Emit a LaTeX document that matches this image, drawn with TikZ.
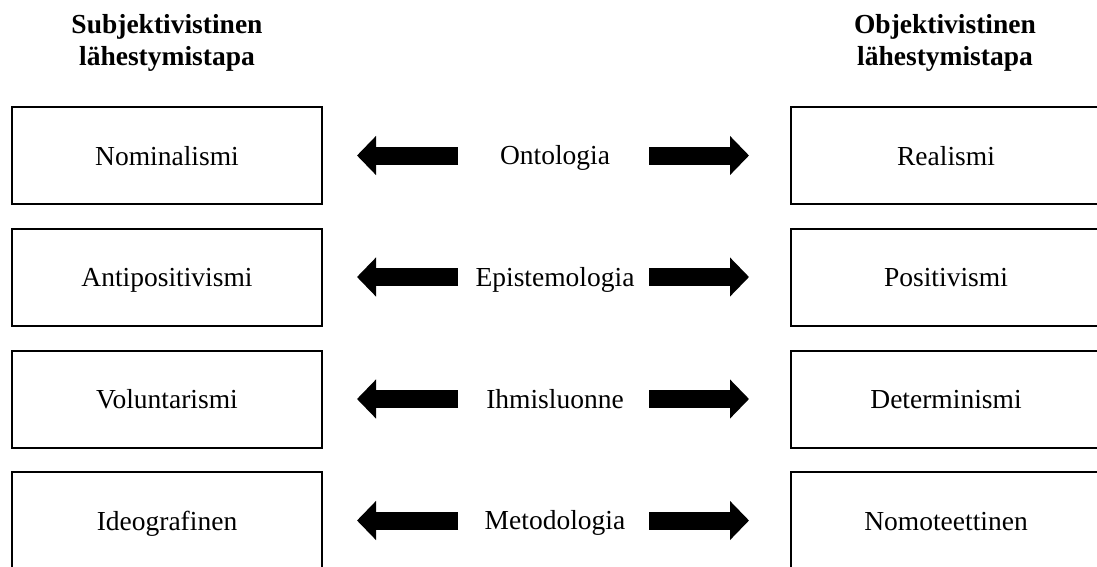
\documentclass[tikz,border=0pt]{standalone}
\usepackage{fontspec}
\setmainfont{Liberation Serif}
\usetikzlibrary{arrows.meta}
\tikzset{
  lbl/.style={font=\fontsize{27.5}{32}\selectfont, inner sep=0pt},
  headtxt/.style={font=\fontsize{27.5}{32}\selectfont\bfseries, inner sep=0pt, align=center},
  cell/.style={draw, line width=2pt, minimum width=310pt, minimum height=97pt, inner sep=0pt,
    font=\fontsize{27.5}{32}\selectfont, text height=19pt, text depth=0pt},
  blockarrow/.style={line width=18pt, -{Triangle[length=19pt,width=38pt]}}
}
\begin{document}
\begin{tikzpicture}[x=1pt,y=-1pt]
\clip (0,0) rectangle (1097,566);
\useasboundingbox (0,0) rectangle (1097,566);
\fill[white] (0,0) rectangle (1097,566);

\node[headtxt] (hl) at (167,42.5) {Subjektivistinen\\lähestymistapa};
\node[headtxt] (hr) at (945,42.5) {Objektivistinen\\lähestymistapa};

\foreach \i/\y/\a/\m/\b in {1/155.5/Nominalismi/Ontologia/Realismi,
                            2/277/Antipositivismi/Epistemologia/Positivismi,
                            3/399/Voluntarismi/Ihmisluonne/Determinismi,
                            4/520.5/Ideografinen/Metodologia/Nomoteettinen}{
  \node[cell] (L\i) at (167,\y) {\a};
  \node[cell] (R\i) at (946,\y) {\b};
  \node[lbl, anchor=base] (M\i) at (555,\y+9) {\m};
  \coordinate (ls\i) at (458,\y);
  \coordinate (lt\i) at (357,\y);
  \coordinate (rs\i) at (649,\y);
  \coordinate (rt\i) at (749,\y);
  \draw[blockarrow] (ls\i) -- (lt\i);
  \draw[blockarrow] (rs\i) -- (rt\i);
}
\end{tikzpicture}
\end{document}
